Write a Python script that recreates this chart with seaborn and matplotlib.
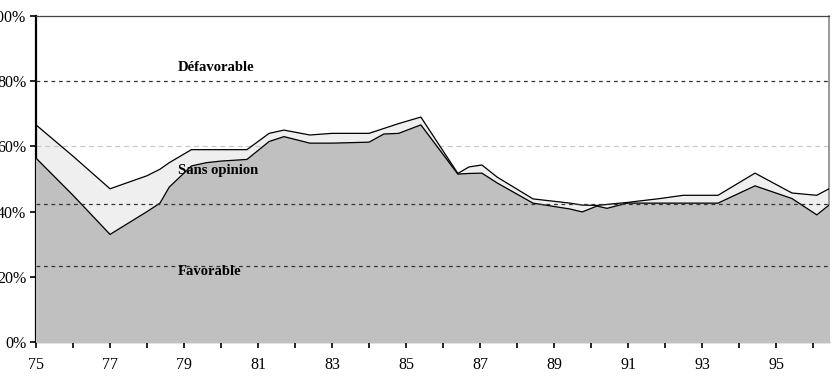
import pandas as pd
import seaborn as sns
import matplotlib.pyplot as plt
from matplotlib.ticker import PercentFormatter, MultipleLocator


# survey readings (year, % favorable, % favorable + sans opinion)
years = [75.0, 76.0, 77.0, 78.0, 78.35, 78.6, 79.2, 79.6, 80.0, 80.7,
         81.3, 81.7, 82.4, 83.0, 84.0, 84.4, 84.8, 85.4, 86.4, 86.7,
         87.05, 87.46, 88.43, 89.43, 89.76, 90.16, 90.43, 90.97, 91.86, 92.49,
         93.43, 94.43, 95.43, 96.1, 96.43]
favorable = [56.4, 45.0, 33.0, 40.0, 42.6, 47.5, 54.0, 55.0, 55.5, 56.0,
             61.5, 63.0, 61.0, 61.0, 61.3, 63.8, 64.0, 66.6, 51.5, 51.7,
             51.8, 48.8, 42.6, 40.8, 39.9, 41.7, 41.0, 42.6, 42.6, 42.6,
             42.6, 47.9, 44.0, 39.0, 42.0]
sans_opinion_top = [66.6, 57.0, 47.0, 51.0, 53.0, 55.0, 59.0, 59.0, 59.0, 59.0,
                    64.0, 65.0, 63.5, 64.0, 64.0, 65.5, 67.0, 69.0, 51.7, 53.7,
                    54.3, 50.6, 43.9, 42.6, 42.0, 41.9, 42.2, 42.8, 44.0, 45.0,
                    45.0, 51.8, 45.7, 45.0, 47.0]
ref_lines = [80, 42.3, 23.3]
labels = ['Défavorable', 'Sans opinion', 'Favorable']
label_y = [83.0, 51.5, 20.5]
xtick_years = [75, 77, 79, 81, 83, 85, 87, 89, 91, 93, 95]

df = pd.DataFrame({'year': years, 'fav': favorable, 'top': sans_opinion_top})

sns.set_style('white')
plt.rcParams['font.family'] = ['Liberation Serif', 'DejaVu Serif']
plt.rcParams['text.color'] = 'black'

fig = plt.figure(figsize=(8.33, 3.83), dpi=100)
ax = fig.add_axes([36 / 833, 41 / 383, 793 / 833, 326 / 383])

ax.fill_between(df['year'], df['fav'], df['top'], color='#efefef', zorder=1)
ax.axhline(60, color='#c8c8c8', ls=(0, (4, 3)), lw=0.9, zorder=2)
ax.fill_between(df['year'], 0, df['fav'], color='#c0c0c0', zorder=3)
sns.lineplot(data=df, x='year', y='top', color='black', lw=0.9, ax=ax, zorder=4)
sns.lineplot(data=df, x='year', y='fav', color='black', lw=0.9, ax=ax, zorder=4)

for v in ref_lines:
    ax.axhline(v, color='#333333', ls=(0, (3, 3)), lw=0.9, zorder=5)

for txt, yv in zip(labels, label_y):
    ax.text(78.84, yv, txt, fontsize=10.5, fontweight='bold', color='black', zorder=6)

ax.set_xlim(75, 96.43)
ax.set_ylim(0, 100)
ax.set_xticks(xtick_years)
ax.set_xticklabels([str(y) for y in xtick_years])
ax.xaxis.set_minor_locator(MultipleLocator(1))
ax.yaxis.set_major_locator(MultipleLocator(20))
ax.yaxis.set_major_formatter(PercentFormatter(decimals=0))
ax.tick_params(axis='both', which='both', direction='out', length=4, width=1.2,
               labelsize=11.5, bottom=True, left=True, colors='black')
ax.tick_params(axis='x', pad=7)
ax.tick_params(axis='y', pad=3)
ax.set_xlabel('')
ax.set_ylabel('')

for side in ['left', 'bottom']:
    ax.spines[side].set_color('black')
    ax.spines[side].set_linewidth(1.6)
ax.spines['top'].set_color('#444444')
ax.spines['top'].set_linewidth(0.9)
ax.spines['right'].set_color('#888888')
ax.spines['right'].set_linewidth(1.2)

plt.savefig('out.png', dpi=100)
